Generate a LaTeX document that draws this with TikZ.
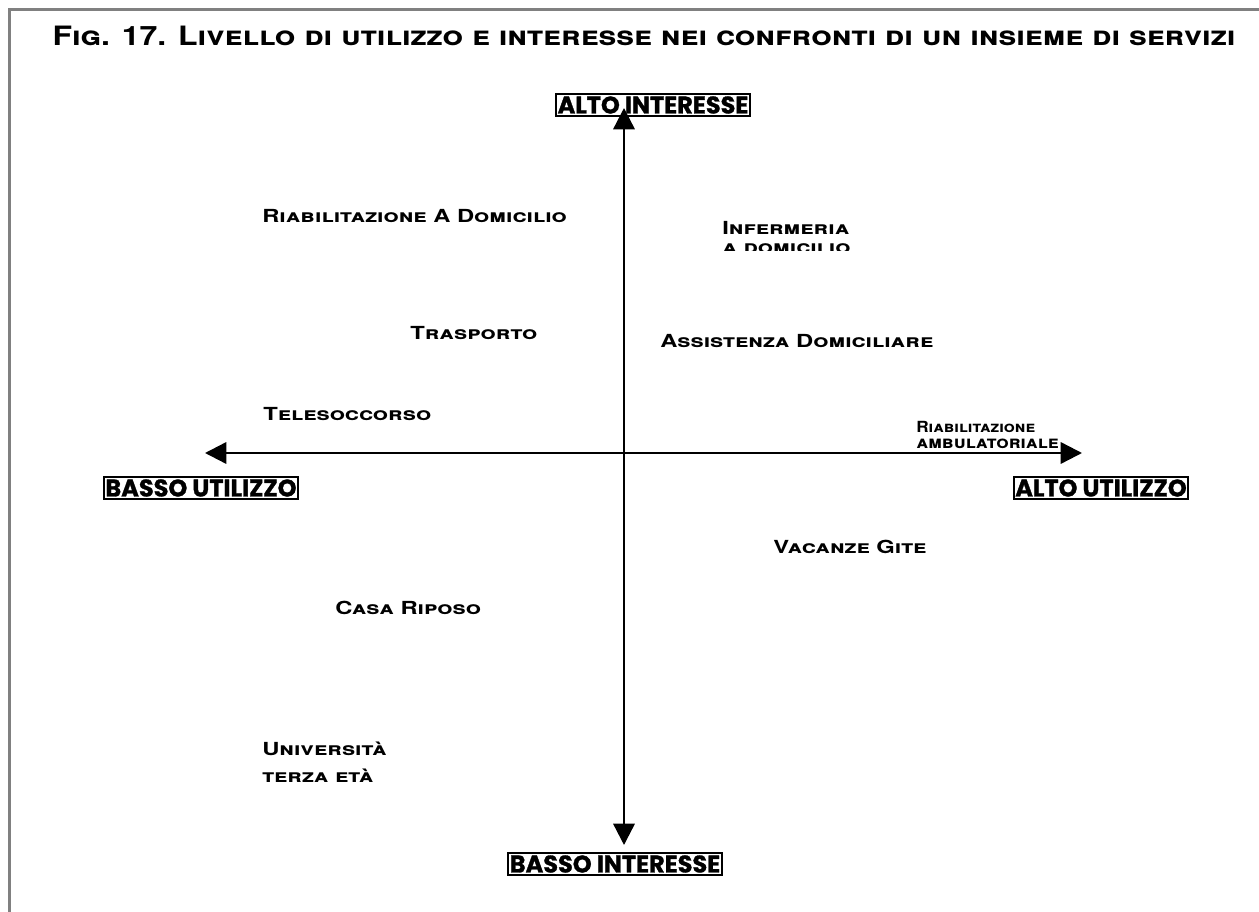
\documentclass[tikz,border=0pt]{standalone}
\usepackage{fontspec}
\usetikzlibrary{arrows.meta}
\newfontfamily\copfont[FakeStretch=1.12]{TeX Gyre Heros}
\newfontfamily\copwide[FakeStretch=1.32]{TeX Gyre Heros}
\newfontfamily\coptitle[FakeStretch=1.2]{TeX Gyre Heros}
\newfontfamily\polofont[BoldFeatures={FakeBold=1.2}]{Poppins}
\begin{document}
\begin{tikzpicture}[x=0.75pt,y=-0.75pt]
	\tikzstyle{none}=[inner sep=0pt]
	\tikzstyle{titolo}=[inner sep=0pt, font=\coptitle\bfseries\scshape\fontsize{20}{24}\selectfont]
	\tikzstyle{voce}=[inner sep=0pt, anchor=west, font=\copwide\bfseries\scshape\fontsize{13.5}{16}\selectfont]
	\tikzstyle{vocina}=[inner sep=0pt, anchor=west, font=\copfont\bfseries\scshape\fontsize{11.5}{13}\selectfont]
	\tikzstyle{polo}=[draw, line width=1.3pt, inner xsep=1.2pt, inner ysep=2pt, font=\polofont\bfseries\fontsize{18}{20}\selectfont]
	\tikzstyle{arrow1}=[{Triangle[length=16pt,width=16pt]}-{Triangle[length=16pt,width=16pt]},draw,line width=1.8pt]
	\tikzstyle{cornice}=[draw=gray, line width=2.2pt]
		\useasboundingbox (0,0) rectangle (1259,912);
		\draw [style=cornice] (1259,9.5) -- (9.5,9.5) -- (9.5,912);

		\node [style=titolo] (0) at (644, 36) {Fig. 17. Livello di utilizzo e interesse nei confronti di un insieme di servizi};

		\node [style=none] (1) at (624, 108) {};
		\node [style=none] (2) at (624, 845) {};
		\node [style=none] (3) at (205, 453) {};
		\node [style=none] (4) at (1082, 453) {};

		\node [style=polo] (5) at (653, 105) {ALTO INTERESSE};
		\node [style=polo] (6) at (615, 864) {BASSO INTERESSE};
		\node [style=polo] (7) at (201, 488) {BASSO UTILIZZO};
		\node [style=polo] (8) at (1101, 488) {ALTO UTILIZZO};

		\node [style=voce] (9) at (262, 216) {Riabilitazione A Domicilio};
		\node [style=voce] (10) at (722, 228) {Infermeria};
		\begin{scope}
			\clip (700, 236) rectangle (880, 251);
			\node [style=voce] (11) at (722, 249) {a domicilio};
		\end{scope}
		\node [style=voce] (12) at (410, 333) {Trasporto};
		\node [style=voce] (13) at (660, 341) {Assistenza Domiciliare};
		\node [style=voce] (14) at (263, 414) {Telesoccorso};
		\node [style=vocina] (15) at (916, 427) {Riabilitazione};
		\node [style=vocina, font=\copfont\bfseries\scshape\fontsize{13}{15}\selectfont] (16) at (916, 444) {ambulatoriale};
		\node [style=voce] (17) at (773, 547) {Vacanze Gite};
		\node [style=voce] (18) at (335, 608) {Casa Riposo};
		\node [style=voce] (19) at (262, 749) {Università};
		\node [style=voce] (20) at (262, 776) {terza età};

		\draw [style=arrow1] (2.center) to (1.center);
		\draw [style=arrow1] (3.center) to (4.center);

\end{tikzpicture}
\end{document}
